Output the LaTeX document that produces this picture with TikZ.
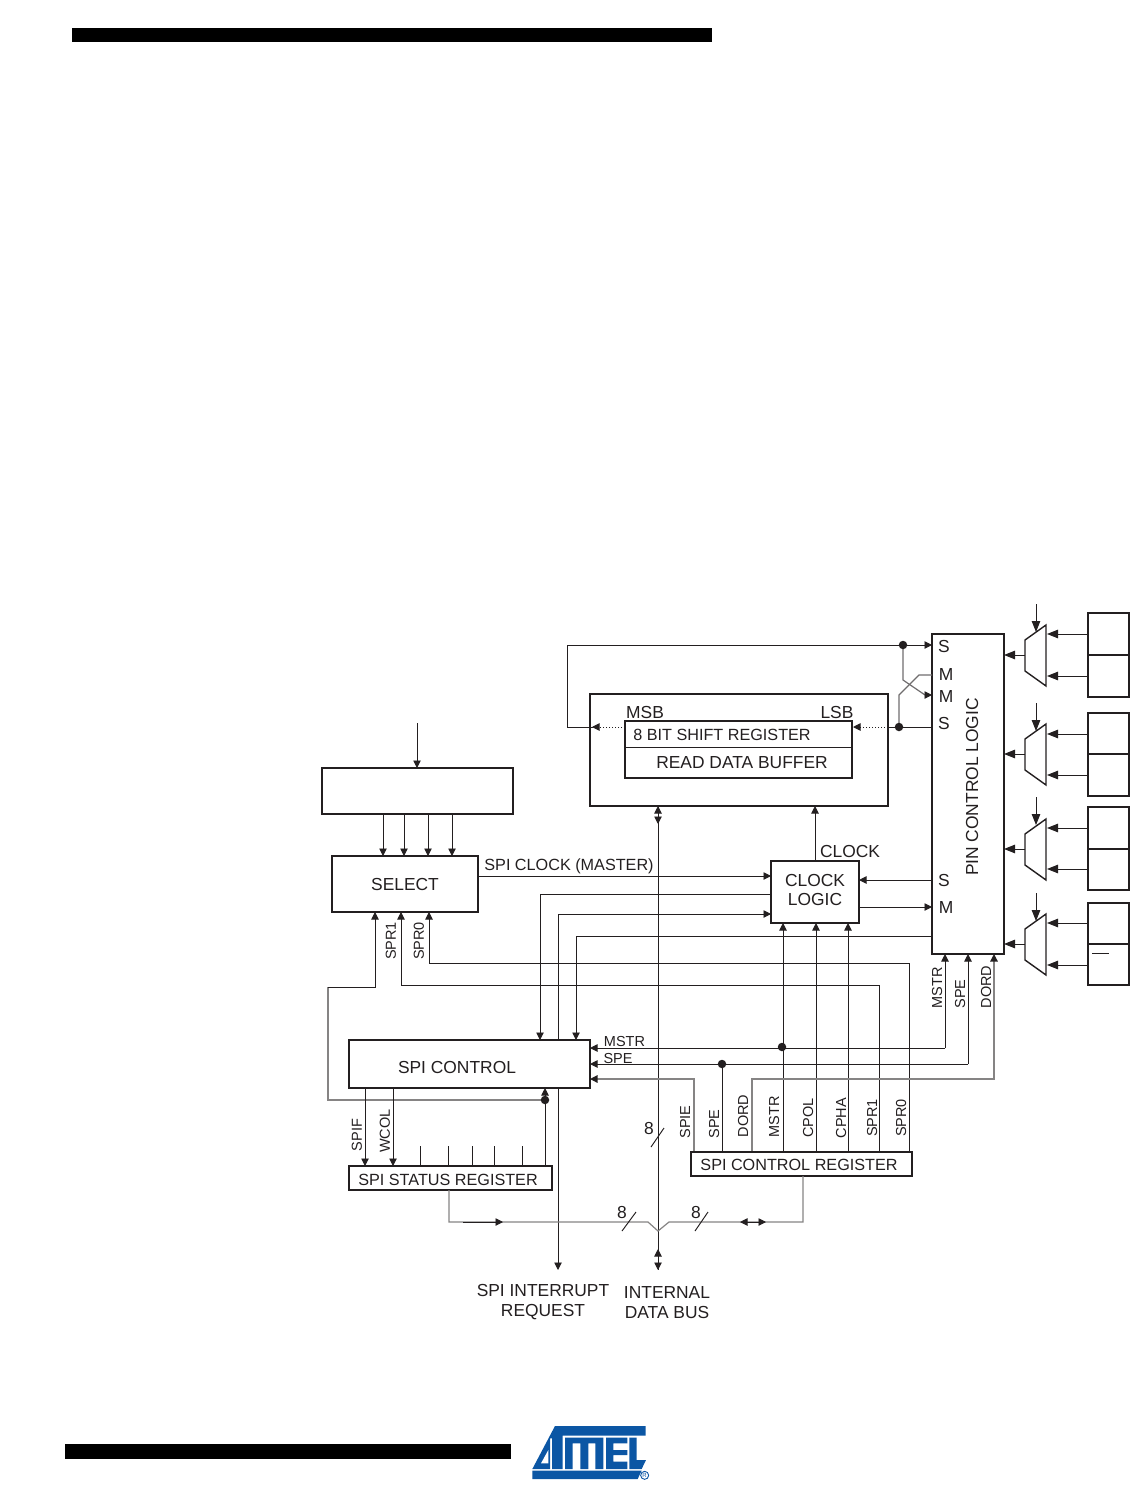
\documentclass[tikz,border=0pt]{standalone}
\usepackage{fontspec}
\setmainfont{Liberation Sans}
\usetikzlibrary{arrows.meta}
\definecolor{ink}{HTML}{231F20}
\definecolor{logoblue}{HTML}{0B56A4}
\tikzset{
  x=1pt,y=-1pt,
  tipa/.tip={Triangle[length=7.5pt,width=7.5pt]},
  tipb/.tip={Triangle[length=11pt,width=8.5pt]},
  ln/.style={draw=ink,line width=0.95pt},
  gl/.style={draw=ink!55,line width=1.2pt},
  arr/.style={ln,-tipa},
  barr/.style={ln,-tipb},
  garr/.style={gl,-{tipa[color=ink]}},
  dotl/.style={draw=ink,line width=1pt,dotted,-tipa},
  dbl/.style={ln,tipa-tipa},
  boxn/.style={draw=ink,line width=1.25pt,fill=white,anchor=north west,inner sep=0pt,outer sep=0pt,align=center},
  boxh/.style={boxn,line width=1.9pt},
  big/.style={text=ink,font=\fontsize{17.4}{20}\selectfont,inner sep=0pt,align=center},
  regt/.style={big,font=\fontsize{16.2}{20}\selectfont},
  small/.style={text=ink,font=\fontsize{14.5}{16}\selectfont,inner sep=0pt},
  vert/.style={small,rotate=90},
  junc/.style={circle,fill=ink,inner sep=0pt,minimum size=8.5pt},
}
\newcommand{\bx}[6][boxn]{\node[#1,minimum width=#5-#3,minimum height=#6-#4] (#2) at (#3,#4) {};}
\begin{document}
\begin{tikzpicture}
\useasboundingbox (0,0) rectangle (1130,1487);
% page bars
\fill[black] (72,28) rectangle (712,42);
\fill[black] (65,1444) rectangle (511,1459);
% logo
\begin{scope}[shift={(520,1400)},x=0.3333pt,y=-0.3333pt]
 \fill[logoblue] (105,78)--(377,78)--(377,107)--(128,107)--(128,207)--(96,207)--(96,115)--(90,115)--(90,207)--(37,207)--cycle;
 \fill[white] (85,150)--(85,190)--(63,190)--cycle;
 \fill[logoblue] (135,113)--(250,113)--(250,207)--(226,207)--(226,130)--(205,130)--(205,207)--(181,207)--(181,130)--(158,130)--(158,207)--(135,207)--cycle;
 \fill[logoblue] (258,113)--(322,113)--(322,130)--(280,130)--(280,150)--(322,150)--(322,165)--(280,165)--(280,185)--(322,185)--(322,207)--(258,207)--cycle;
 \fill[logoblue] (328,113)--(350,113)--(350,180)--(378,180)--(365,207)--(328,207)--cycle;
 \fill[logoblue] (37,212)--(365,212)--(353,237)--(37,237)--cycle;
 \draw[logoblue,line width=0.9pt] (374,226) circle (12);
 \node[text=logoblue,font=\fontsize{6}{6}\selectfont,inner sep=0pt] (reg) at (374,226) {R};
\end{scope}

\coordinate (busT) at (658,806);
\coordinate (busB) at (658,1270);
\coordinate (irqB) at (558,1270);
% boxes
\bx{blank}{322}{768}{513}{814}
\bx{sel}{332}{856}{478}{912}
\bx[boxh]{shift}{590}{694}{888}{806}
\bx{pin}{932}{634}{1004}{954}

\draw[ln] (busT) -- (busB);
\draw[ln,tipa-] (busT) -- ++(0,10);
\draw[ln,-tipa] (658,812) -- (658,824);
\draw[dbl] (658,1249) -- (busB);

% top of select
\coordinate (selIn) at (417,723);
\draw[arr] (selIn) -- (selIn |- blank.north);
\foreach \x in {383,404,428,452} \draw[arr] (\x,814) -- (\x,856);

% S/M crossing
\draw[arr] (567,645) -- (932,645);
\draw[ln] (593,727) -- (567,727) -- (567,645);
\draw[gl,draw=ink!65] (903,645) -- (903,680) -- (925,695);
\draw[arr] (925,695) -- (932,695);
\draw[gl,draw=ink!65] (932,675) -- (919,675) -- (899,695) -- (899,727);
\draw[ln] (932,727) -- (888,727);
\draw[dotl] (888,727) -- (853,727);
\draw[dotl] (625,727) -- (592,727);
\node[junc] (j1) at (903,645) {};
\node[junc] (j2) at (899,727) {};

% clock logic wiring
\draw[arr] (478,876) -- (771,876);
\draw[arr] (771,894) -- (540,894) -- (540,1040);
\draw[arr] (558,1040) -- (558,914) -- (771,914);
\draw[arr] (932,936) -- (576,936) -- (576,1040);
\draw[arr] (815,861) -- (815,806);
\draw[arr] (932,880) -- (859,880);
\draw[arr] (859,907) -- (932,907);

% register to clock / pin
\draw[arr] (783,1152) -- (783,923);
\draw[arr] (816,1152) -- (816,923);
\draw[arr] (848,1152) -- (848,923);
\draw[arr] (909,1152) -- (909,963) -- (429,963) -- (429,912);
\draw[arr] (879,1152) -- (879,985) -- (401,985) -- (401,912);
\draw[arr] (945,1048) -- (590,1048);
\draw[arr] (945,1048) -- (945,954);
\draw[arr] (968,1064) -- (590,1064);
\draw[arr] (968,1064) -- (968,954);
\draw[ln] (722,1152) -- (722,1064);
\draw[garr] (752,1152) -- (752,1079) -- (994,1079) -- (994,954);
\draw[garr] (694,1152) -- (694,1079) -- (590,1079);
\node[junc] (j3) at (782,1047) {};
\node[junc] (j4) at (722,1064) {};

% SPI interrupt flag feedback
\draw[arr] (545,1166) -- (545,1088);
\draw[gl] (545,1100) -- (328,1100) -- (328,987);
\draw[arr] (328,987) -- (375,987) -- (375,912);
\node[junc] (j5) at (545,1100) {};

% interrupt line
\draw[arr] (558,1088) -- (irqB);

% control and status boxes
\bx[boxh]{ctl}{349}{1040}{590}{1088}
\bx{stat}{349}{1166}{552}{1190}
\bx[boxh]{creg}{691}{1152}{912}{1176}
\draw[arr] (365,1088) -- (365,1166);
\draw[arr] (393,1088) -- (393,1166);
\foreach \x in {420,448,472,494,522} \draw[ln] (\x,1146) -- (\x,1166);

% internal bus
\draw[gl] (449,1190) -- (449,1222) -- (648,1222) -- (658,1231) -- (669,1222) -- (803,1222) -- (803,1176);
\draw[arr] (463,1222) -- (503,1222);
\draw[dbl] (740,1222) -- (766,1222);
\draw[ln] (622,1231) -- (636,1212);
\draw[ln] (695,1231) -- (708,1212);
\draw[ln] (651,1147) -- (664,1128);

% clock logic and shift register on top
\bx[boxh]{clk}{771}{861}{859}{923}
\bx[boxh]{inner}{625}{721}{852}{778}
\draw[ln] (625,747) -- (852,747);

% pin boxes and muxes
\foreach \c/\tp/\bt/\aa/\ab/\ay in {655/613/697/634/676/604,754/713/796/734/775/703,849/807/890/828/869/797,944/903/985/923/965/893}{
  \draw[draw=ink,line width=1.5pt] (1088,\tp) rectangle (1129,\bt);
  \draw[ln,line width=1.4pt] (1088,\c) -- (1129,\c);
  \draw[barr] (1025,\c) -- (1004,\c);
  \draw[barr] (1088,\aa) -- (1047,\aa);
  \draw[barr] (1088,\ab) -- (1047,\ab);
  \draw[ln,line width=1.4pt] (1025,\c-15) -- (1046,\c-30) -- (1046,\c+31) -- (1025,\c+16) -- cycle;
  \draw[barr] (1036,\ay) -- (1036,\ay+28);
}
\draw[ln] (1092,953) -- (1109,953);

% labels
\node[big] (t1) at (405,884.5) {SELECT};
\node[big] (t2) at (457,1067) {SPI CONTROL};
\node[big] (t3) at (815,890) {CLOCK\\[-0.5pt]LOGIC};
\node[regt] (t4) at (722,734.5) {8 BIT SHIFT REGISTER};
\node[big] (t5) at (742,762.5) {READ DATA BUFFER};
\node[big] (t6) at (645,713) {MSB};
\node[big] (t7) at (837,713) {LSB};
\node[big] (t8) at (850,852) {CLOCK};
\node[regt] (t9) at (569,866) {SPI CLOCK (MASTER)};
\node[big,rotate=90] (t10) at (972,787) {PIN CONTROL LOGIC};
\node[regt] (t11) at (448,1179.5) {SPI STATUS REGISTER};
\node[regt] (t12) at (799,1165) {SPI CONTROL REGISTER};
\node[big] (t13) at (543,1302) {SPI INTERRUPT\\REQUEST};
\node[big] (t14) at (667,1303) {INTERNAL\\DATA BUS};
\node[big] (s1) at (944,647) {S};
\node[big] (m1) at (946,675) {M};
\node[big] (m2) at (946,697) {M};
\node[big] (s2) at (944,724) {S};
\node[big] (s3) at (944,881) {S};
\node[big] (m3) at (946,908) {M};
\node[big] (n1) at (622,1212) {8};
\node[big] (n2) at (696,1212) {8};
\node[big] (n3) at (649,1128) {8};
\node[small] (l1) at (624.5,1041) {MSTR};
\node[small] (l2) at (618,1058) {SPE};
\node[vert] (v1) at (391,941) {SPR1};
\node[vert] (v2) at (419,941) {SPR0};
\node[vert] (v3) at (937,988) {MSTR};
\node[vert] (v4) at (960,994) {SPE};
\node[vert] (v5) at (986,987) {DORD};
\node[vert] (v6) at (357,1135) {SPIF};
\node[vert] (v7) at (385,1131) {WCOL};
\node[vert] (v8) at (685,1122) {SPIE};
\node[vert] (v9) at (714,1124) {SPE};
\node[vert] (v10) at (743,1116) {DORD};
\node[vert] (v11) at (774,1117) {MSTR};
\node[vert] (v12) at (808,1118) {CPOL};
\node[vert] (v13) at (841,1118) {CPHA};
\node[vert] (v14) at (872,1118) {SPR1};
\node[vert] (v15) at (901,1118) {SPR0};
\end{tikzpicture}
\end{document}
